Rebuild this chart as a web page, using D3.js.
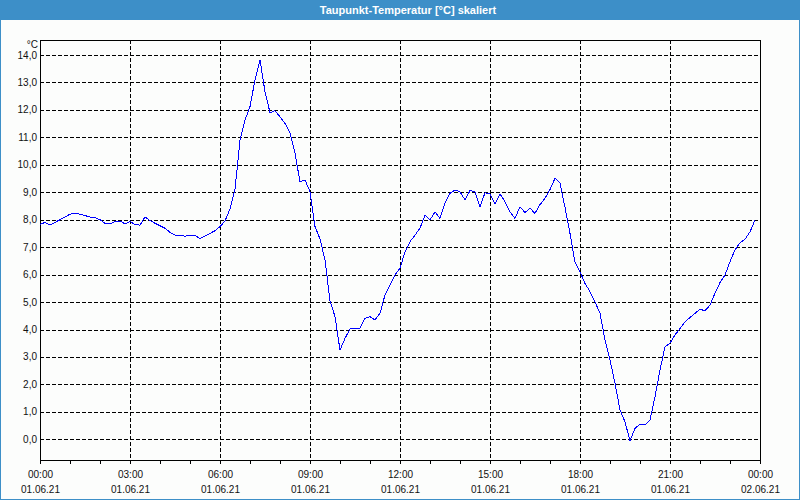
<!DOCTYPE html>
<html>
<head>
<meta charset="utf-8">
<script src="https://cdn.jsdelivr.net/npm/d3@7"></script>
<style>
  html, body { margin: 0; padding: 0; background: #fcfdfc; }
  svg { display: block; }
  text { font-family: "Liberation Sans", Arial, sans-serif; }
</style>
</head>
<body>
<svg id="chart" width="800" height="500"></svg>
<script>
// ---- data ----
const title = "Taupunkt-Temperatur [°C] skaliert";
const unitLabel = "°C";
// dew point values, one every 10 minutes from 00:00 to 23:50 on 01.06.21
const dewPoint = [
  7.83, 7.90, 7.80, 7.90, 8.00, 8.10, 8.20, 8.23, 8.20, 8.15, 8.10, 8.08,
  8.00, 7.87, 7.85, 7.93, 7.95, 7.85, 7.93, 7.83, 7.80, 8.10, 7.97, 7.87,
  7.78, 7.69, 7.54, 7.44, 7.44, 7.40, 7.44, 7.42, 7.32, 7.40, 7.50, 7.60,
  7.75, 7.95, 8.40, 9.10, 10.90, 11.63, 12.12, 13.09, 13.82, 12.66, 11.90, 11.97,
  11.75, 11.51, 11.15, 10.42, 9.38, 9.45, 9.02, 7.75, 7.30, 6.53, 5.05, 4.47,
  3.25, 3.68, 4.02, 4.02, 4.04, 4.41, 4.47, 4.35, 4.59, 5.26, 5.62, 5.99,
  6.23, 6.83, 7.20, 7.44, 7.69, 8.17, 7.99, 8.29, 8.05, 8.60, 8.96, 9.08,
  9.02, 8.72, 9.06, 9.02, 8.47, 8.98, 8.94, 8.56, 8.94, 8.66, 8.29, 8.05,
  8.47, 8.26, 8.42, 8.23, 8.55, 8.78, 9.10, 9.51, 9.33, 8.45, 7.50, 6.45,
  6.10, 5.68, 5.38, 5.01, 4.59, 3.62, 2.89, 2.04, 1.07, 0.64, -0.06, 0.40,
  0.55, 0.53, 0.70, 1.55, 2.52, 3.37, 3.50, 3.80, 4.04, 4.28, 4.44, 4.59,
  4.74, 4.68, 4.89, 5.32, 5.71, 5.99, 6.47, 6.90, 7.16, 7.29, 7.56, 7.99
];
const sampleMinutes = 10;
const xTickHours = [0, 3, 6, 9, 12, 15, 18, 21, 24];
const xTimeLabels = ["00:00", "03:00", "06:00", "09:00", "12:00", "15:00", "18:00", "21:00", "00:00"];
const xDateLabels = ["01.06.21", "01.06.21", "01.06.21", "01.06.21", "01.06.21", "01.06.21", "01.06.21", "01.06.21", "02.06.21"];
const xMinorHours = d3.range(0, 25, 1);
const yTicks = [0, 1, 2, 3, 4, 5, 6, 7, 8, 9, 10, 11, 12, 13, 14];
const yDomain = [-0.754, 14.547];

// ---- layout ----
const W = 800, H = 500;
const plot = { left: 40, top: 40, right: 760, bottom: 460 };
const svg = d3.select("#chart");

// background + frame
svg.append("rect").attr("x", 0).attr("y", 0).attr("width", W).attr("height", H).attr("fill", "#fcfdfc");
svg.append("rect").attr("x", 0.5).attr("y", 0.5).attr("width", W - 1).attr("height", H - 1)
  .attr("fill", "none").attr("stroke", "#3d8fc8").attr("stroke-width", 1);
// title bar
svg.append("rect").attr("x", 0).attr("y", 0).attr("width", W).attr("height", 20).attr("fill", "#3d8fc8");
svg.append("text").attr("x", 408).attr("y", 13.5).attr("text-anchor", "middle")
  .attr("fill", "#ffffff").attr("font-size", "11px").attr("font-weight", "bold").text(title);

const x = d3.scaleLinear().domain([0, 24]).range([plot.left, plot.right]);
const y = d3.scaleLinear().domain(yDomain).range([plot.bottom, plot.top]);

const g = svg.append("g");

// horizontal grid
g.selectAll("line.hgrid").data(yTicks).join("line").attr("class", "hgrid")
  .attr("x1", plot.left).attr("x2", plot.right)
  .attr("y1", d => Math.round(y(d)) + 0.5).attr("y2", d => Math.round(y(d)) + 0.5)
  .attr("stroke", "#000").attr("stroke-width", 1).attr("stroke-dasharray", "4,2")
  .attr("shape-rendering", "crispEdges");
// vertical grid
g.selectAll("line.vgrid").data(xTickHours.slice(1, -1)).join("line").attr("class", "vgrid")
  .attr("x1", d => Math.round(x(d)) + 0.5).attr("x2", d => Math.round(x(d)) + 0.5)
  .attr("y1", plot.top).attr("y2", plot.bottom)
  .attr("stroke", "#000").attr("stroke-width", 1).attr("stroke-dasharray", "4,2")
  .attr("shape-rendering", "crispEdges");

// x minor ticks
g.selectAll("line.xtick").data(xMinorHours).join("line").attr("class", "xtick")
  .attr("x1", d => Math.round(x(d)) + 0.5).attr("x2", d => Math.round(x(d)) + 0.5)
  .attr("y1", plot.bottom).attr("y2", plot.bottom + 3.5)
  .attr("stroke", "#000").attr("shape-rendering", "crispEdges");

// plot frame
g.append("rect").attr("x", plot.left + 0.5).attr("y", plot.top + 0.5)
  .attr("width", plot.right - plot.left).attr("height", plot.bottom - plot.top)
  .attr("fill", "none").attr("stroke", "#000").attr("stroke-width", 1)
  .attr("shape-rendering", "crispEdges");

// y labels
const fmt = d3.format(".1f");
g.selectAll("text.ylab").data(yTicks).join("text").attr("class", "ylab")
  .attr("x", 37).attr("y", d => y(d) + 3.5).attr("text-anchor", "end")
  .attr("font-size", "10px").attr("fill", "#111")
  .text(d => fmt(d).replace(".", ","));
g.append("text").attr("x", 38).attr("y", 48).attr("text-anchor", "end")
  .attr("font-size", "10px").attr("fill", "#111").text(unitLabel);

// x labels
g.selectAll("text.xtime").data(xTickHours).join("text").attr("class", "xtime")
  .attr("x", d => x(d) + 0.5).attr("y", 478).attr("text-anchor", "middle")
  .attr("font-size", "10px").attr("fill", "#111")
  .text((d, i) => xTimeLabels[i]);
g.selectAll("text.xdate").data(xTickHours).join("text").attr("class", "xdate")
  .attr("x", d => x(d) + 0.5).attr("y", 493).attr("text-anchor", "middle")
  .attr("font-size", "10px").attr("fill", "#111")
  .text((d, i) => xDateLabels[i]);

// data line
const line = d3.line()
  .x((d, i) => x(i * sampleMinutes / 60))
  .y(d => y(d));
g.append("path").datum(dewPoint).attr("d", line)
  .attr("fill", "none").attr("stroke", "#0000ff").attr("stroke-width", 1)
  .attr("shape-rendering", "crispEdges");
</script>
</body>
</html>
